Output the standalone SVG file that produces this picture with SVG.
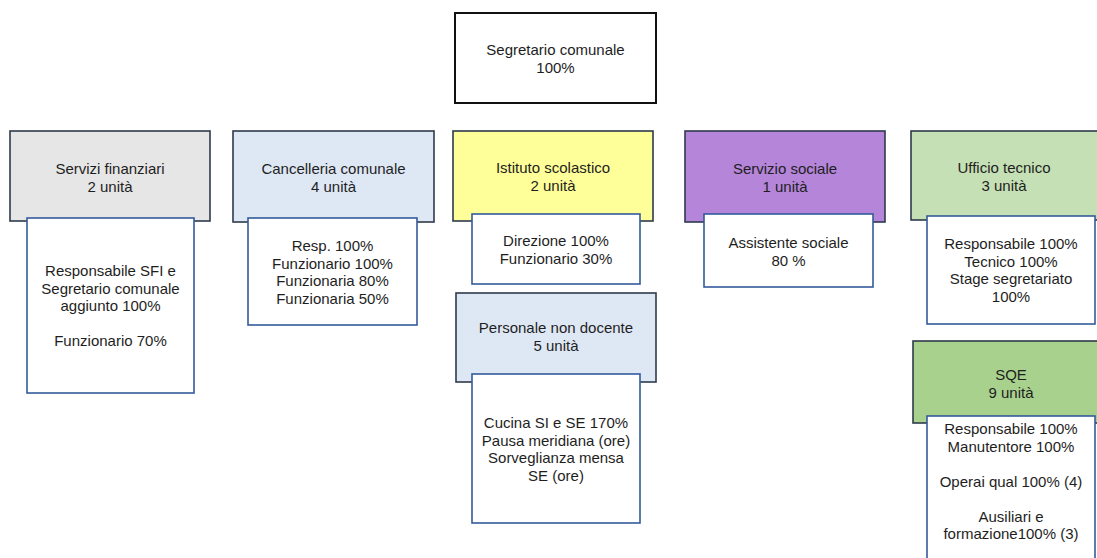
<svg xmlns="http://www.w3.org/2000/svg" width="1097" height="558" viewBox="0 0 1097 558">
<style>
text{font-family:"Liberation Sans",Arial,sans-serif;font-size:15px;fill:#1e1e1e;text-anchor:middle}
.hdr{stroke:#2e3a4c;stroke-width:1.6}
.inner{fill:#ffffff;stroke:#345a9c;stroke-width:1.6}
.top{fill:#ffffff;stroke:#111111;stroke-width:2}
</style>
<rect width="1097" height="558" fill="#ffffff"/>
<g id="connectors"></g>
<g id="segretario">
<rect class="top" x="455" y="13" width="201" height="90"/>
<text x="555.5" y="55">Segretario comunale</text>
<text x="555.5" y="73">100%</text>
</g>
<g id="servizi-finanziari">
<rect class="hdr" x="10" y="131" width="200" height="90" fill="#e7e6e6"/>
<text x="110" y="174">Servizi finanziari</text>
<text x="110" y="192">2 unità</text>
<rect class="inner" x="27" y="218" width="167" height="175"/>
<text x="110.5" y="276">Responsabile SFI e</text>
<text x="110.5" y="293.5">Segretario comunale</text>
<text x="110.5" y="311">aggiunto 100%</text>
<text x="110.5" y="346">Funzionario 70%</text>
</g>
<g id="cancelleria">
<rect class="hdr" x="233" y="131" width="201" height="91" fill="#dee8f5"/>
<text x="333.5" y="174">Cancelleria comunale</text>
<text x="333.5" y="192">4 unità</text>
<rect class="inner" x="248" y="218" width="169" height="107"/>
<text x="332.5" y="251">Resp. 100%</text>
<text x="332.5" y="268.5">Funzionario 100%</text>
<text x="332.5" y="286">Funzionaria 80%</text>
<text x="332.5" y="303.5">Funzionaria 50%</text>
</g>
<g id="istituto">
<rect class="hdr" x="453" y="131" width="200" height="90" fill="#ffff99"/>
<text x="553" y="172.5">Istituto scolastico</text>
<text x="553" y="190.5">2 unità</text>
<rect class="inner" x="472" y="214" width="168" height="70"/>
<text x="556" y="246">Direzione 100%</text>
<text x="556" y="264">Funzionario 30%</text>
</g>
<g id="personale-non-docente">
<rect class="hdr" x="456" y="293" width="200" height="89" fill="#dee8f5"/>
<text x="556" y="333">Personale non docente</text>
<text x="556" y="351">5 unità</text>
<rect class="inner" x="472" y="374" width="168" height="149"/>
<text x="556" y="428">Cucina SI e SE 170%</text>
<text x="556" y="445.5">Pausa meridiana (ore)</text>
<text x="556" y="463">Sorveglianza mensa</text>
<text x="556" y="480.5">SE (ore)</text>
</g>
<g id="servizio-sociale">
<rect class="hdr" x="685" y="131" width="200" height="91" fill="#b485d9"/>
<text x="785" y="174">Servizio sociale</text>
<text x="785" y="192">1 unità</text>
<rect class="inner" x="704" y="214" width="169" height="73"/>
<text x="788.5" y="248">Assistente sociale</text>
<text x="788.5" y="265.5">80 %</text>
</g>
<g id="ufficio-tecnico">
<rect class="hdr" x="911" y="131" width="200" height="89" fill="#c5e0b4"/>
<text x="1004" y="172.5">Ufficio tecnico</text>
<text x="1004" y="190.5">3 unità</text>
<rect class="inner" x="927" y="216" width="168" height="108"/>
<text x="1011" y="249">Responsabile 100%</text>
<text x="1011" y="266.5">Tecnico 100%</text>
<text x="1011" y="284">Stage segretariato</text>
<text x="1011" y="301.5">100%</text>
</g>
<g id="sqe">
<rect class="hdr" x="913" y="341" width="200" height="82" fill="#a9d18e"/>
<text x="1011" y="380">SQE</text>
<text x="1011" y="398">9 unità</text>
<rect class="inner" x="927" y="416" width="168" height="160"/>
<text x="1011" y="434">Responsabile 100%</text>
<text x="1011" y="451.5">Manutentore 100%</text>
<text x="1011" y="486.5">Operai qual 100% (4)</text>
<text x="1011" y="521.5">Ausiliari e</text>
<text x="1011" y="539">formazione100% (3)</text>
</g>
</svg>
